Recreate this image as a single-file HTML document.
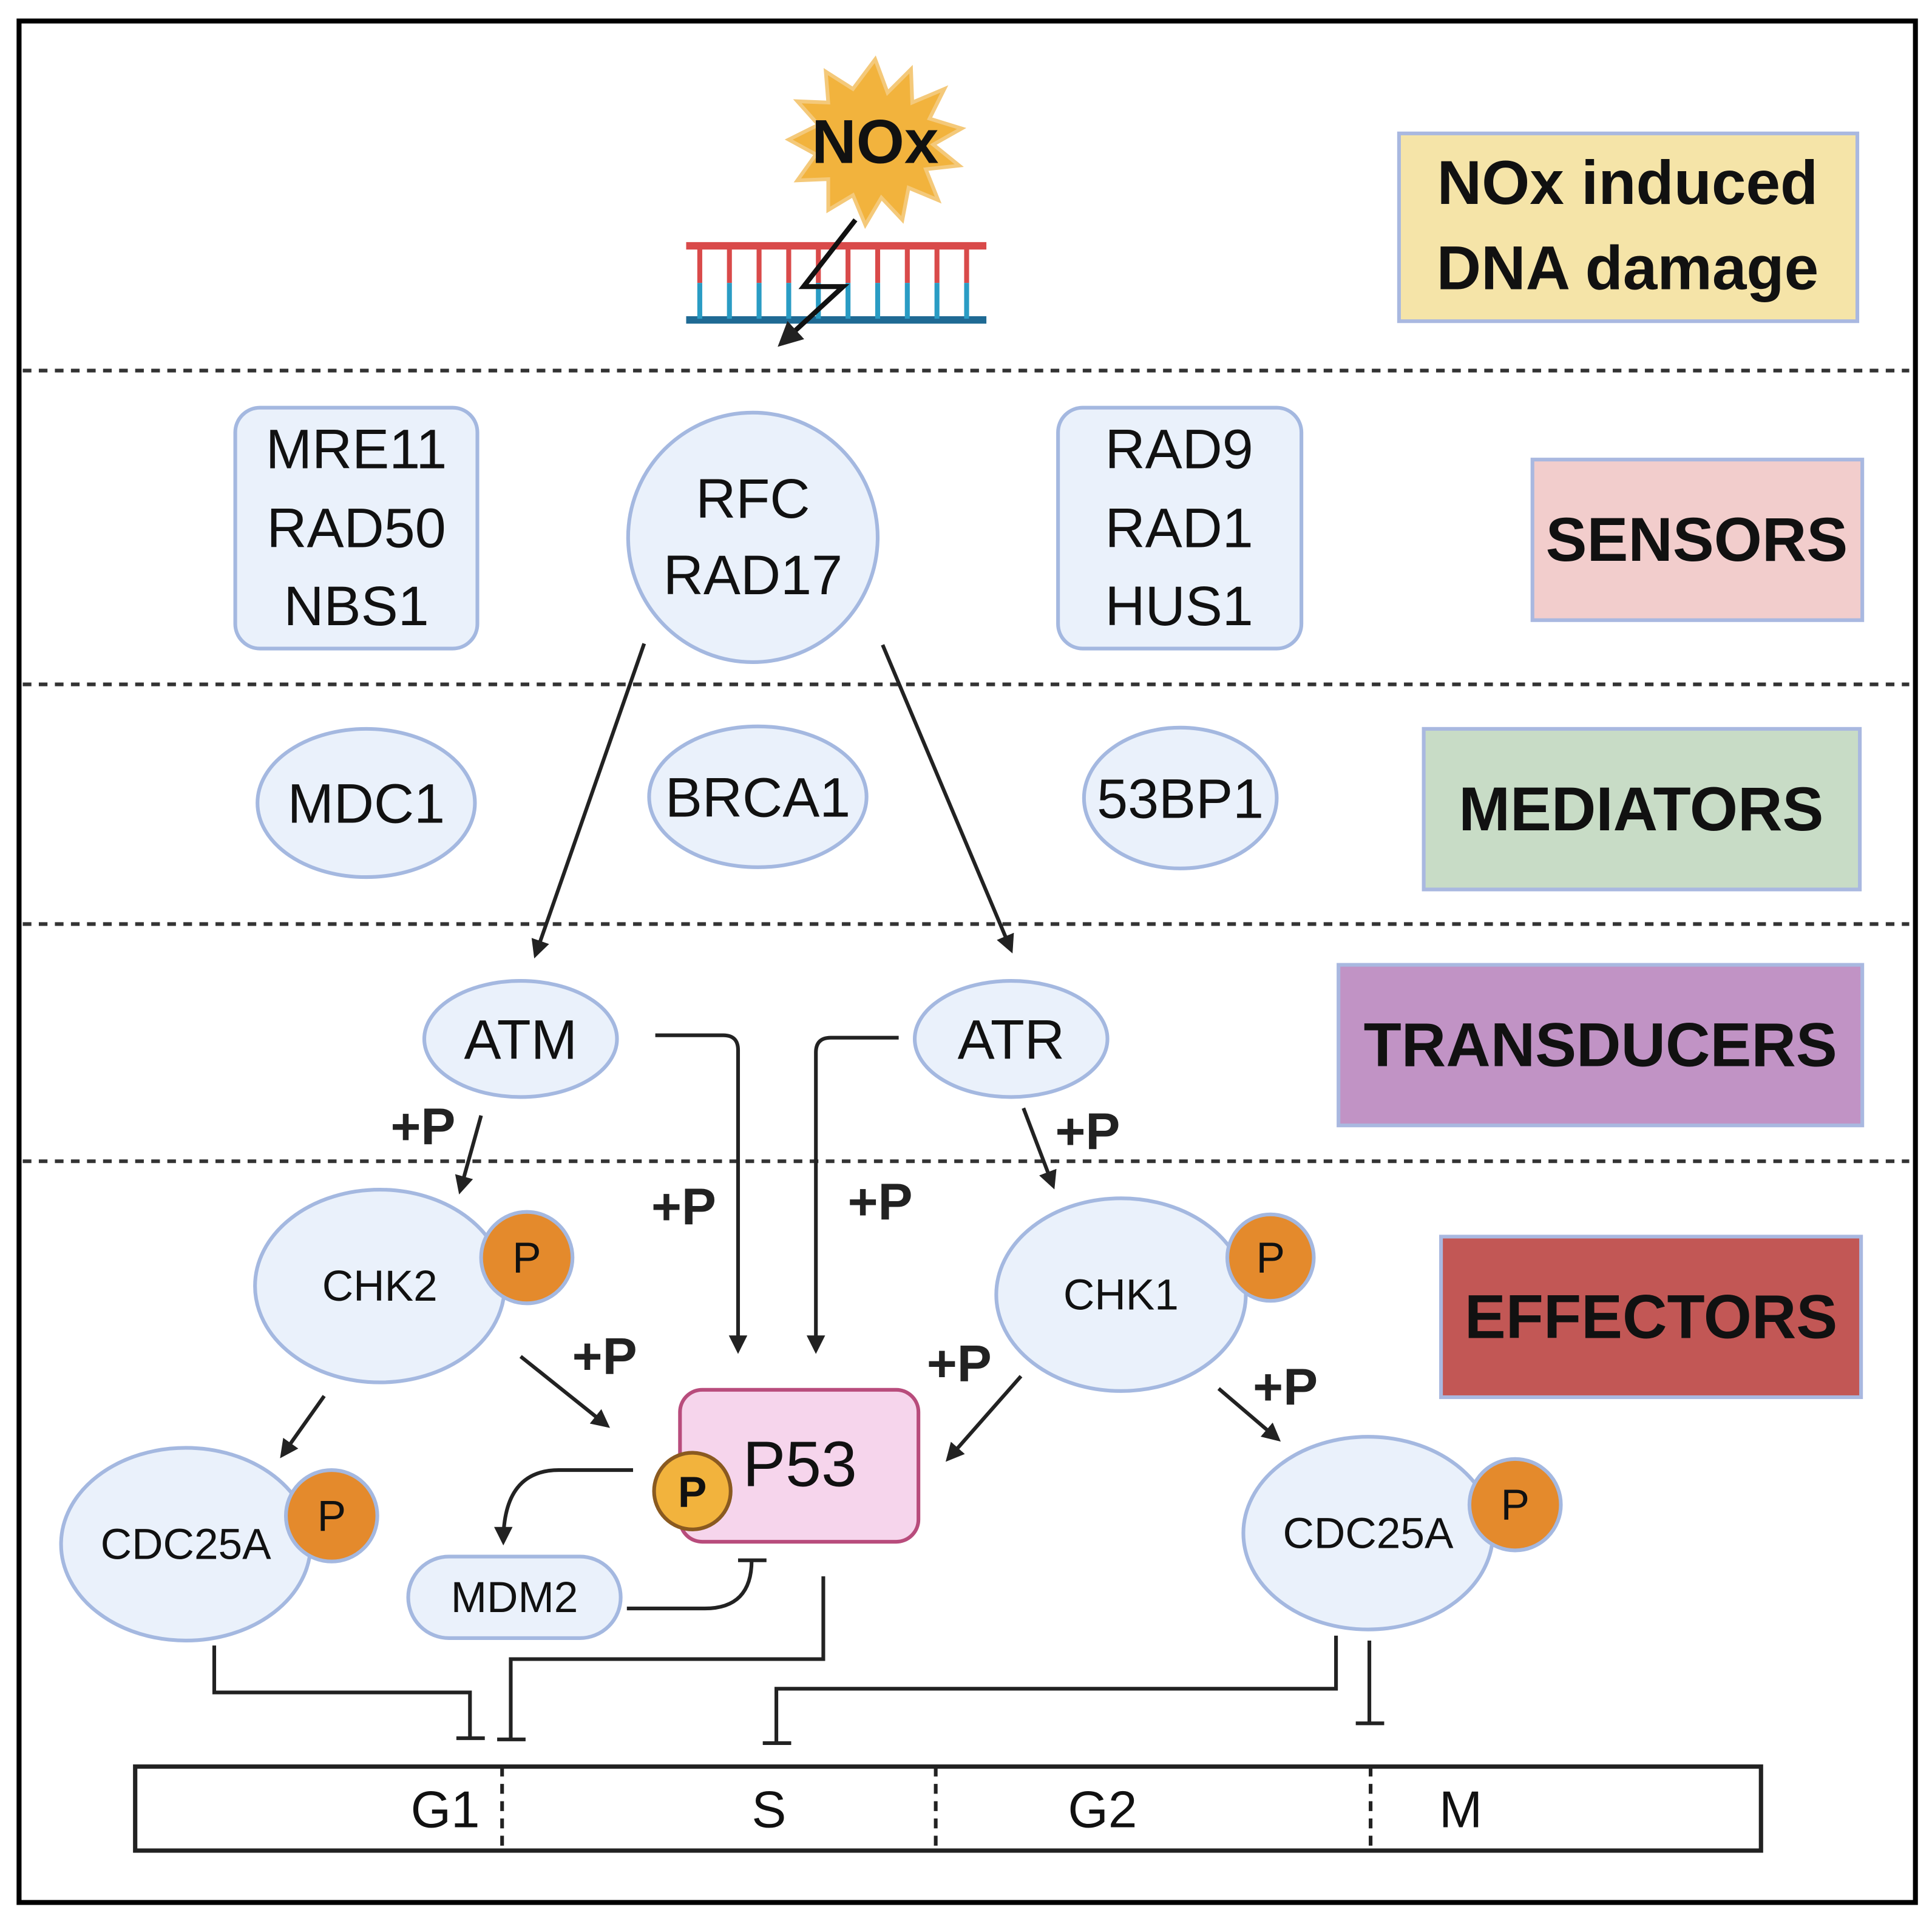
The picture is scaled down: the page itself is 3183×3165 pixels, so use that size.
<!DOCTYPE html>
<html><head><meta charset="utf-8"><style>html,body{margin:0;padding:0;background:#fff}svg{display:block}</style></head><body>
<svg width="3183" height="3165" viewBox="0 0 1563 1555" xmlns="http://www.w3.org/2000/svg" font-family="Liberation Sans, sans-serif">
<defs>
<marker id="a" viewBox="0 0 10 10" refX="8" refY="5" markerWidth="5" markerHeight="5" orient="auto"><path d="M0,0L10,5L0,10z" fill="#222"/></marker>
</defs>
<rect x="0" y="0" width="1563" height="1555" fill="#fff"/>
<rect x="15" y="17" width="1535" height="1523" fill="none" stroke="#000" stroke-width="4"/>
<g stroke="#333" stroke-width="3" stroke-dasharray="7,6">
<line x1="18" y1="300" x2="1545" y2="300"/><line x1="18" y1="554" x2="1545" y2="554"/>
<line x1="18" y1="748" x2="1545" y2="748"/><line x1="18" y1="940" x2="1545" y2="940"/>
</g>
<!-- DNA -->
<g stroke-width="4">
<line x1="555" y1="199" x2="798" y2="199" stroke="#d94a4a" stroke-width="6"/>
<line x1="555" y1="259" x2="798" y2="259" stroke="#1f6a94" stroke-width="6"/>
<g id="r">
<line x1="566" y1="200" x2="566" y2="229" stroke="#d94a4a"/><line x1="566" y1="229" x2="566" y2="258" stroke="#2a9cc4"/>
</g>
<use href="#r" x="24"/><use href="#r" x="48"/><use href="#r" x="72"/><use href="#r" x="96"/><use href="#r" x="120"/><use href="#r" x="144"/><use href="#r" x="168"/><use href="#r" x="192"/><use href="#r" x="216"/>
</g>
<polygon points="708,48 718,75 737,56 738,83 764,72 752,96 778,104 755,117 776,134 749,137 759,162 735,152 730,178 713,160 700,182 690,158 670,170 670,145 645,146 660,125 638,113 662,101 645,82 670,83 668,58 690,72" fill="#f2b33d" stroke="#f4c97a" stroke-width="3"/>
<text x="708" y="132" font-size="50" font-weight="bold" text-anchor="middle" fill="#111">NOx</text>
<path d="M692,178 L650,232 L682,232 L632,278" fill="none" stroke="#111" stroke-width="4" marker-end="url(#a)"/>
<!-- right labels -->
<g stroke="#a9b8e0" stroke-width="3" font-weight="bold" font-size="50" text-anchor="middle" fill="#111">
<rect x="1132" y="108" width="371" height="152" fill="#f5e4a8"/>
<rect x="1240" y="372" width="267" height="130" fill="#f2cdcc"/>
<rect x="1152" y="590" width="353" height="130" fill="#c8dcc6"/>
<rect x="1083" y="781" width="424" height="130" fill="#c193c5"/>
<rect x="1166" y="1001" width="340" height="130" fill="#c25755"/>
</g>
<g font-weight="bold" font-size="50" text-anchor="middle" fill="#111">
<text x="1317" y="165">NOx induced</text><text x="1317" y="234">DNA damage</text>
<text x="1373" y="454">SENSORS</text><text x="1328" y="672">MEDIATORS</text>
<text x="1295" y="863">TRANSDUCERS</text><text x="1336" y="1083">EFFECTORS</text>
</g>
<!-- nodes -->
<g fill="#eaf1fb" stroke="#a4b8e0" stroke-width="3">
<rect x="190" y="330" width="196" height="195" rx="20"/>
<circle cx="609" cy="435" r="101"/>
<rect x="856" y="330" width="197" height="195" rx="20"/>
<ellipse cx="296" cy="650" rx="88" ry="60"/>
<ellipse cx="613" cy="645" rx="88" ry="57"/>
<ellipse cx="955" cy="646" rx="78" ry="57"/>
<ellipse cx="421" cy="841" rx="78" ry="47"/>
<ellipse cx="818" cy="841" rx="78" ry="47"/>
<ellipse cx="307" cy="1041" rx="101" ry="78"/>
<ellipse cx="907" cy="1048" rx="101" ry="78"/>
<ellipse cx="150" cy="1250" rx="101" ry="78"/>
<ellipse cx="1107" cy="1241" rx="101" ry="78"/>
<rect x="330" y="1260" width="172" height="66" rx="33"/>
</g>
<g fill="#e48a2c" stroke="#a4b8e0" stroke-width="3">
<circle cx="426" cy="1018" r="37"/><circle cx="1028" cy="1018" r="35"/>
<circle cx="268" cy="1227" r="37"/><circle cx="1226" cy="1218" r="37"/>
</g>
<rect x="550" y="1125" width="193" height="123" rx="18" fill="#f6d5ec" stroke="#b84c7c" stroke-width="3"/>
<circle cx="560" cy="1207" r="31" fill="#f2b33d" stroke="#8a5a20" stroke-width="3"/>
<g font-size="45" text-anchor="middle" fill="#111">
<text x="288" y="379">MRE11</text><text x="288" y="443">RAD50</text><text x="288" y="506">NBS1</text>
<text x="609" y="419">RFC</text><text x="609" y="481">RAD17</text>
<text x="954" y="379">RAD9</text><text x="954" y="443">RAD1</text><text x="954" y="506">HUS1</text>
<text x="296" y="666">MDC1</text><text x="613" y="661">BRCA1</text><text x="955" y="662">53BP1</text>
<text x="421" y="857">ATM</text><text x="818" y="857">ATR</text>
<text x="647" y="1203" font-size="52">P53</text>
</g>
<g font-size="35" text-anchor="middle" fill="#111">
<text x="307" y="1053">CHK2</text><text x="907" y="1060">CHK1</text>
<text x="150" y="1262">CDC25A</text><text x="1107" y="1253">CDC25A</text>
<text x="416" y="1305">MDM2</text>
<text x="426" y="1030">P</text><text x="1028" y="1030">P</text><text x="268" y="1239">P</text><text x="1226" y="1230">P</text>
<text x="560" y="1220" font-weight="bold">P</text>
</g>
<!-- arrows -->
<g fill="none" stroke="#222" stroke-width="3" marker-end="url(#a)">
<line x1="521" y1="521" x2="433" y2="773"/>
<line x1="714" y1="522" x2="818" y2="769"/>
<line x1="389" y1="903" x2="372" y2="964"/>
<line x1="828" y1="897" x2="852" y2="960"/>
<path d="M530,838 H585 Q597,838 597,850 V1093"/>
<path d="M727,840 H672 Q660,840 660,852 V1093"/>
<line x1="421" y1="1098" x2="491" y2="1154"/>
<line x1="826" y1="1114" x2="767" y2="1181"/>
<line x1="986" y1="1124" x2="1034" y2="1165"/>
<line x1="262" y1="1130" x2="228" y2="1178"/>
<path d="M512,1190 H452 Q407,1190 407,1248"/>
</g>
<g fill="none" stroke="#222" stroke-width="3">
<path d="M507,1302 H570 Q608,1302 608,1263"/><line x1="597" y1="1263" x2="620" y2="1263"/>
<path d="M173,1332 V1370 H380 V1407"/><line x1="369" y1="1407" x2="392" y2="1407"/>
<path d="M666,1276 V1343 H413 V1408"/><line x1="402" y1="1408" x2="425" y2="1408"/>
<path d="M1081,1324 V1367 H628 V1411"/><line x1="617" y1="1411" x2="640" y2="1411"/>
<path d="M1108,1328 V1395"/><line x1="1097" y1="1395" x2="1120" y2="1395"/>
<rect x="109" y="1430" width="1316" height="68" stroke-width="3.5"/>
<g stroke-dasharray="8,6"><line x1="406" y1="1430" x2="406" y2="1498"/><line x1="757" y1="1430" x2="757" y2="1498"/><line x1="1109" y1="1430" x2="1109" y2="1498"/></g>
</g>
<g font-size="42" text-anchor="middle" fill="#111">
<text x="360" y="1479">G1</text><text x="622" y="1479">S</text><text x="892" y="1479">G2</text><text x="1182" y="1479">M</text>
</g>
<g font-size="42" font-weight="bold" text-anchor="middle" fill="#222">
<text x="342" y="926">+P</text><text x="880" y="930">+P</text><text x="553" y="991">+P</text><text x="712" y="987">+P</text>
<text x="489" y="1112">+P</text><text x="776" y="1118">+P</text><text x="1040" y="1137">+P</text>
</g>
</svg>
</body></html>
